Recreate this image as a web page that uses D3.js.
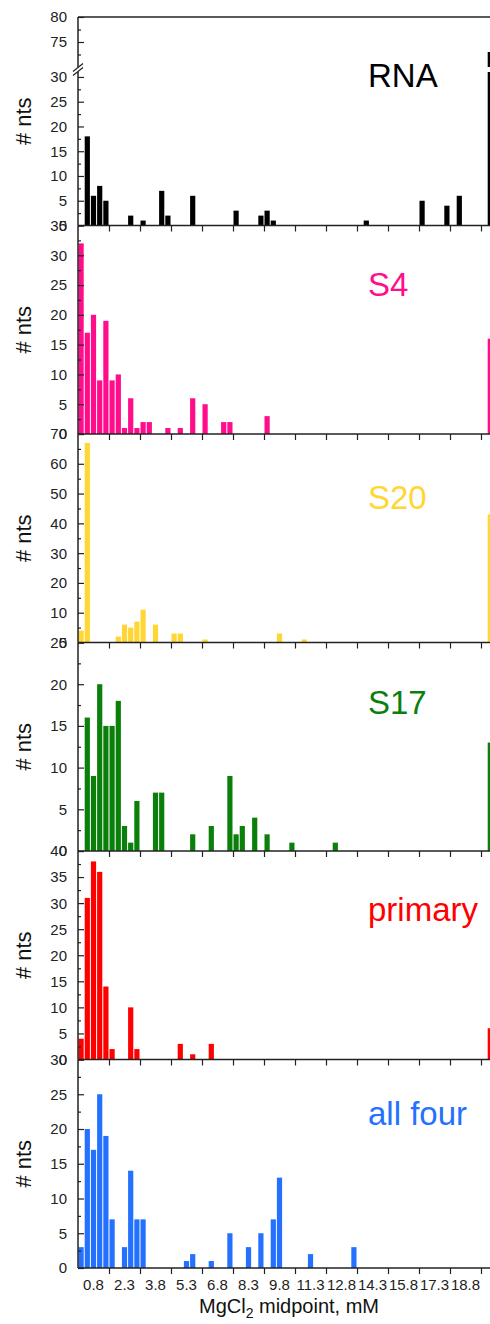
<!DOCTYPE html>
<html>
<head>
<meta charset="utf-8">
<script src="https://cdn.jsdelivr.net/npm/d3@7"></script>
<style>
  body { margin: 0; background: #fff; }
  text { font-family: "Liberation Sans", Arial, sans-serif; }
</style>
</head>
<body>
<svg></svg>
<script>
// bin centres (mM) that have counts, and the counts, per panel
let rnaBins = [0.5, 0.8, 1.1, 1.4, 2.6, 3.2, 4.1, 4.4, 5.6, 7.7, 8.9, 9.2, 9.5, 14.0, 16.7, 17.9, 18.5, 20.0];
let rnaCounts = [18, 6, 8, 5, 2, 1, 7, 2, 6, 3, 2, 3, 1, 1, 5, 4, 6, 73];

let s4Bins = [0.2, 0.5, 0.8, 1.1, 1.4, 1.7, 2.0, 2.3, 2.6, 2.9, 3.2, 3.5, 4.4, 5.0, 5.6, 6.2, 7.1, 7.4, 9.2, 20.0];
let s4Counts = [32, 17, 20, 9, 19, 9, 10, 1, 6, 1, 2, 2, 1, 1, 6, 5, 2, 2, 3, 16];

let s20Bins = [0.2, 0.5, 2.0, 2.3, 2.6, 2.9, 3.2, 3.8, 4.7, 5.0, 6.2, 9.8, 11.0, 20.0];
let s20Counts = [4, 67, 2, 6, 5, 7, 11, 6, 3, 3, 1, 3, 1, 43];

let s17Bins = [0.5, 0.8, 1.1, 1.4, 1.7, 2.0, 2.3, 2.6, 2.9, 3.8, 4.1, 5.6, 6.5, 7.4, 7.7, 8.0, 8.6, 9.2, 10.4, 12.5, 20.0];
let s17Counts = [16, 9, 20, 15, 15, 18, 3, 1, 6, 7, 7, 2, 3, 9, 2, 3, 4, 2, 1, 1, 13];

let primaryBins = [0.2, 0.5, 0.8, 1.1, 1.4, 1.7, 2.6, 2.9, 5.0, 5.6, 6.5, 20.0];
let primaryCounts = [4, 31, 38, 36, 14, 2, 10, 2, 3, 1, 3, 6];

let allBins = [0.2, 0.5, 0.8, 1.1, 1.4, 1.7, 2.3, 2.6, 2.9, 3.2, 5.3, 5.6, 6.5, 7.4, 8.3, 8.9, 9.5, 9.8, 11.3, 13.4];
let allCounts = [3, 20, 17, 25, 19, 7, 3, 14, 7, 7, 1, 2, 1, 5, 3, 5, 7, 13, 2, 3];

let xTickLabels = ['0.8', '2.3', '3.8', '5.3', '6.8', '8.3', '9.8', '11.3', '12.8', '14.3', '15.8', '17.3', '18.8'];
let xTickBreaks = [1.55, 3.05, 4.55, 6.05, 7.55, 9.05, 10.55, 12.05, 13.55, 15.05, 16.55, 18.05, 19.55];

let panelNames = ['RNA', 'S4', 'S20', 'S17', 'primary', 'all four'];
let panelMax = [31, 35, 70, 25, 40, 30];
let panelStep = [5, 5, 10, 5, 5, 5];

let width = 490;
let height = 1324;
let left = 78;
let top0 = 17;
let panelH = 208.5;
let binW = 0.3;
let axisColor = '#222';

let colors = ['#000000', '#ff0d8a', '#ffd633', '#0a800a', '#ff0000', '#2470ff'];
let labelDy = [70, 70, 75, 71, 70, 65];

let series = [
  d3.zip(rnaBins, rnaCounts),
  d3.zip(s4Bins, s4Counts),
  d3.zip(s20Bins, s20Counts),
  d3.zip(s17Bins, s17Counts),
  d3.zip(primaryBins, primaryCounts),
  d3.zip(allBins, allCounts)
];

let svg = d3.select('svg')
  .attr('width', width)
  .attr('height', height);

let xScale = d3.scaleLinear()
  .domain([0.05, 20.05])
  .range([left, left + 20 * 31 / 1.5]);

let bw = xScale(binW) - xScale(0);

series.forEach((data, i) => {
  let pTop = top0 + i * panelH;
  let pBot = pTop + panelH;
  let g = svg.append('g');

  // y scales; the RNA panel has a broken axis
  let yScale = d3.scaleLinear().domain([0, panelMax[i]]).range([pBot, i === 0 ? pTop + 55 : pTop]);
  let yUpper = d3.scaleLinear().domain([70, 80]).range([pTop + 50, pTop]);

  g.selectAll('rect')
    .data(data)
    .enter()
    .append('rect')
    .attr('x', d => xScale(d[0] - binW / 2) + 0.5)
    .attr('width', bw - 1)
    .attr('y', d => yScale(Math.min(d[1], panelMax[i])))
    .attr('height', d => yScale(0) - yScale(Math.min(d[1], panelMax[i])))
    .attr('fill', colors[i]);

  if (i === 0) {
    g.selectAll('rect.up')
      .data(data.filter(d => d[1] > 70))
      .enter()
      .append('rect')
      .attr('class', 'up')
      .attr('x', d => xScale(d[0] - binW / 2) + 0.5)
      .attr('width', bw - 1)
      .attr('y', d => yUpper(d[1]))
      .attr('height', d => yUpper(70) - yUpper(d[1]))
      .attr('fill', colors[i]);
  }

  // y axes, ticks inward
  let yAxis = d3.axisRight(yScale)
    .tickValues(d3.range(0, panelMax[i] + 0.01, panelStep[i]))
    .tickSize(6).tickFormat('');
  let yMinor = d3.axisRight(yScale)
    .tickValues(d3.range(panelStep[i] / 2, panelMax[i], panelStep[i]))
    .tickSize(3).tickFormat('');
  let ya = g.append('g').attr('transform', 'translate(' + left + ',0)').call(yAxis);
  let ym = g.append('g').attr('transform', 'translate(' + left + ',0)').call(yMinor);
  [ya, ym].forEach(a => {
    a.select('.domain').remove();
    a.selectAll('line').attr('stroke', axisColor).attr('stroke-width', 1.2);
  });

  g.selectAll('text.ytick')
    .data(yAxis.tickValues())
    .enter()
    .append('text')
    .attr('class', 'ytick')
    .attr('x', 67)
    .attr('y', d => yScale(d))
    .attr('dy', '0.36em')
    .attr('text-anchor', 'end')
    .style('font-size', '15px')
    .attr('fill', axisColor)
    .text(d => d);

  if (i === 0) {
    let ua = g.append('g').attr('transform', 'translate(' + left + ',0)')
      .call(d3.axisRight(yUpper).tickValues([75, 80]).tickSize(6).tickFormat(''));
    let um = g.append('g').attr('transform', 'translate(' + left + ',0)')
      .call(d3.axisRight(yUpper).tickValues([72.5, 77.5]).tickSize(3).tickFormat(''));
    [ua, um].forEach(a => {
      a.select('.domain').remove();
      a.selectAll('line').attr('stroke', axisColor).attr('stroke-width', 1.2);
    });
    g.selectAll('text.yup')
      .data([75, 80])
      .enter()
      .append('text')
      .attr('x', 67)
      .attr('y', d => yUpper(d))
      .attr('dy', '0.36em')
      .attr('text-anchor', 'end')
      .style('font-size', '15px')
      .attr('fill', axisColor)
      .text(d => d);
  }

  // left axis line
  if (i === 0) {
    g.append('line').attr('x1', left).attr('x2', left).attr('y1', pTop).attr('y2', yUpper(70))
      .attr('stroke', axisColor).attr('stroke-width', 1.5);
    g.append('line').attr('x1', left).attr('x2', left).attr('y1', yScale(31)).attr('y2', pBot)
      .attr('stroke', axisColor).attr('stroke-width', 1.5);
    // break marks
    let yb = (yUpper(70) + yScale(31)) / 2;
    g.append('path')
      .attr('d', 'M' + (left - 5) + ',' + (yb + 2) + 'L' + (left + 5) + ',' + (yb - 6))
      .attr('stroke', axisColor).attr('stroke-width', 1.3);
    g.append('path')
      .attr('d', 'M' + (left - 5) + ',' + (yb + 6) + 'L' + (left + 5) + ',' + (yb - 2))
      .attr('stroke', axisColor).attr('stroke-width', 1.3);
    // top border
    g.append('line').attr('x1', left).attr('x2', width).attr('y1', pTop).attr('y2', pTop)
      .attr('stroke', axisColor).attr('stroke-width', 1.5);
  } else {
    g.append('line').attr('x1', left).attr('x2', left).attr('y1', pTop).attr('y2', pBot)
      .attr('stroke', axisColor).attr('stroke-width', 1.5);
  }

  // bottom x axis, ticks outward
  let xAxis = d3.axisBottom(xScale).tickValues(xTickBreaks).tickSize(6).tickFormat('');
  let xa = g.append('g').attr('transform', 'translate(0,' + pBot + ')').call(xAxis);
  xa.select('.domain').remove();
  xa.selectAll('line').attr('stroke', axisColor).attr('stroke-width', 1.2);
  g.append('line').attr('x1', left).attr('x2', width).attr('y1', pBot).attr('y2', pBot)
    .attr('stroke', axisColor).attr('stroke-width', 1.5);

  // y label
  g.append('text')
    .attr('transform', 'translate(31,' + (pTop + panelH / 2) + ') rotate(-90)')
    .attr('text-anchor', 'middle')
    .style('font-size', '22px')
    .attr('fill', '#111')
    .text('# nts');

  // panel name
  g.append('text')
    .attr('x', 368)
    .attr('y', pTop + labelDy[i])
    .style('font-size', '33px')
    .attr('fill', colors[i])
    .text(panelNames[i]);
});

let bottom = top0 + 6 * panelH;

svg.selectAll('text.xtick')
  .data(xTickLabels)
  .enter()
  .append('text')
  .attr('class', 'xtick')
  .attr('x', d => xScale(+d))
  .attr('y', bottom + 22)
  .attr('text-anchor', 'middle')
  .style('font-size', '15px')
  .attr('fill', axisColor)
  .text(d => d);

let title = svg.append('text')
  .attr('x', 289)
  .attr('y', bottom + 45)
  .attr('text-anchor', 'middle')
  .style('font-size', '20px')
  .attr('fill', '#111');
title.append('tspan').text('MgCl');
title.append('tspan').attr('dy', 5).style('font-size', '14px').text('2');
title.append('tspan').attr('dy', -5).text(' midpoint, mM');
</script>
</body>
</html>
